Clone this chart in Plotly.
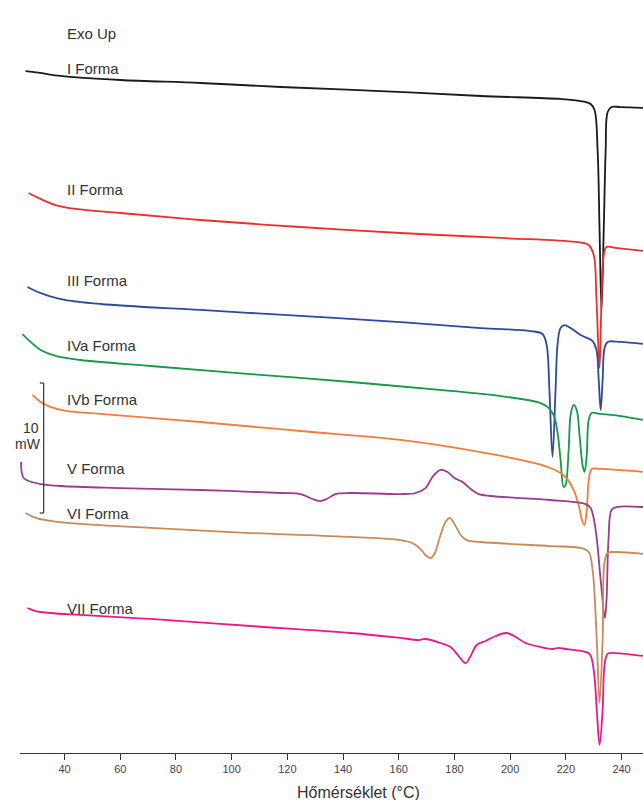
import plotly.graph_objects as go

# DSC thermograms of the crystal forms (temperature in °C, heat flow in mW, curves offset, exo up)
t_I = [26.0, 31.4, 38.6, 60.1, 88.8, 117.6, 153.5, 189.4, 218.1, 225.3, 228.9, 230.3, 231.4, 232.1, 232.8, 233.6, 234.3, 235.0, 236.4, 239.6, 247.9]
q_I = [52.46, 52.31, 52.08, 51.77, 51.54, 51.23, 50.92, 50.54, 50.31, 50.15, 49.92, 49.46, 46.38, 40.23, 34.08, 40.23, 46.38, 49.31, 49.69, 49.69, 49.62]

t_II = [27.1, 31.4, 36.8, 44.0, 60.1, 88.8, 124.7, 160.6, 196.6, 223.5, 228.2, 230.0, 231.0, 232.1, 232.8, 233.6, 234.6, 237.8, 247.9]
q_II = [43.08, 42.62, 42.15, 41.85, 41.54, 41.0, 40.46, 40.0, 39.62, 39.31, 39.08, 38.31, 34.85, 29.62, 34.85, 38.31, 38.92, 38.85, 38.62]

t_III = [26.7, 31.4, 38.6, 52.9, 88.8, 124.7, 160.6, 189.4, 207.3, 211.6, 213.1, 214.1, 215.2, 216.3, 217.0, 218.1, 219.5, 221.7, 225.3, 229.6, 231.0, 231.8, 232.5, 233.2, 233.9, 235.0, 239.6, 247.9]
q_III = [35.85, 35.38, 34.92, 34.54, 34.08, 33.62, 33.15, 32.69, 32.46, 32.23, 31.38, 27.92, 22.77, 27.92, 31.38, 32.69, 32.92, 32.69, 32.15, 31.69, 31.0, 28.69, 26.38, 28.69, 31.15, 31.62, 31.62, 31.46]

t_IVa = [24.9, 27.8, 31.4, 36.8, 45.7, 70.9, 106.8, 142.7, 178.6, 196.6, 210.9, 213.4, 215.6, 217.0, 218.1, 219.2, 219.9, 221.0, 221.7, 222.8, 223.9, 224.9, 226.0, 226.7, 227.5, 228.2, 229.3, 232.5, 239.6, 247.9]
q_IVa = [32.23, 31.62, 31.0, 30.54, 30.23, 29.77, 29.15, 28.54, 27.85, 27.46, 26.92, 26.62, 26.0, 24.69, 22.54, 20.46, 20.62, 23.31, 26.0, 26.77, 26.38, 24.46, 22.15, 21.62, 22.92, 25.62, 26.15, 26.08, 25.92, 25.62]

t_IVb = [28.5, 31.4, 34.9, 40.4, 52.9, 88.8, 124.7, 160.6, 189.4, 203.7, 214.5, 219.9, 222.8, 224.6, 226.0, 226.7, 227.5, 228.2, 229.3, 232.5, 247.9]
q_IVb = [27.54, 27.0, 26.62, 26.31, 26.08, 25.46, 24.77, 24.08, 23.15, 22.54, 21.92, 21.23, 20.23, 19.08, 17.77, 17.54, 18.69, 20.92, 21.85, 21.85, 21.62]

t_V = [24.4, 24.6, 25.3, 27.1, 31.4, 38.6, 60.1, 88.8, 117.6, 124.7, 129.0, 131.6, 134.1, 137.3, 142.7, 160.6, 166.0, 169.6, 172.1, 175.0, 177.5, 180.0, 182.9, 185.8, 188.7, 193.0, 214.5, 227.1, 228.9, 230.7, 232.5, 234.0, 234.6, 235.3, 236.4, 238.2, 247.9]
q_V = [22.38, 21.62, 21.15, 20.92, 20.69, 20.54, 20.38, 20.23, 20.0, 19.92, 19.54, 19.38, 19.54, 19.92, 20.0, 19.92, 20.0, 20.38, 21.23, 21.77, 21.62, 21.15, 20.85, 20.31, 19.92, 19.77, 19.46, 19.15, 18.85, 17.15, 13.31, 10.38, 11.77, 16.38, 18.69, 18.92, 18.92]

t_VI = [26.0, 29.6, 34.9, 45.7, 70.9, 106.8, 142.7, 160.6, 164.9, 167.8, 169.9, 171.4, 172.8, 175.0, 176.8, 178.3, 180.0, 182.2, 184.4, 189.4, 214.5, 225.3, 228.2, 229.6, 231.1, 232.1, 233.2, 233.9, 235.0, 237.8, 247.9]
q_VI = [18.46, 18.08, 17.85, 17.62, 17.31, 16.92, 16.62, 16.38, 16.15, 15.69, 15.15, 15.0, 15.31, 16.77, 17.77, 18.08, 17.62, 16.77, 16.38, 16.23, 15.92, 15.77, 15.46, 14.08, 8.69, 3.85, 8.69, 14.69, 15.38, 15.46, 15.31]

t_VII = [26.7, 29.6, 34.9, 45.7, 70.9, 106.8, 142.7, 160.6, 167.1, 169.6, 175.0, 178.6, 181.5, 184.0, 185.8, 188.0, 191.2, 194.8, 198.7, 202.0, 205.5, 210.9, 215.2, 217.4, 219.9, 225.3, 228.5, 230.0, 231.1, 232.1, 233.2, 233.9, 235.0, 237.8, 247.9]
q_VII = [11.15, 10.92, 10.77, 10.62, 10.31, 9.77, 9.23, 8.85, 8.69, 8.77, 8.46, 8.15, 7.46, 6.92, 7.46, 8.31, 8.62, 9.0, 9.23, 8.92, 8.46, 8.15, 8.0, 8.08, 8.0, 7.85, 7.62, 6.38, 3.31, 0.62, 3.31, 6.77, 7.62, 7.69, 7.46]

form_names = ["I Forma", "II Forma", "III Forma", "IVa Forma", "IVb Forma", "V Forma", "VI Forma", "VII Forma"]
tick_values = [40, 60, 80, 100, 120, 140, 160, 180, 200, 220, 240]
scale_bar_mw = 10

curves = [
    (t_I, q_I, "#1a1a1a", 52.69),
    (t_II, q_II, "#e8312f", 43.31),
    (t_III, q_III, "#2d4a9c", 36.38),
    (t_IVa, q_IVa, "#17994a", 31.38),
    (t_IVb, q_IVb, "#ef7d3c", 27.23),
    (t_V, q_V, "#993d8c", 21.85),
    (t_VI, q_VI, "#c88a5a", 18.46),
    (t_VII, q_VII, "#e8198b", 11.15),
]

font_family = "Liberation Sans, Arial, sans-serif"
text_color = "#333333"

fig = go.Figure()
annotations = []
for name, (t, q, color, label_y) in zip(form_names, curves):
    fig.add_trace(go.Scatter(
        x=t, y=q, mode="lines", name=name,
        line=dict(color=color, width=1.8, shape="spline", smoothing=1.0),
        hoverinfo="x+y+name",
    ))
    annotations.append(dict(
        x=40.3, y=label_y, xref="x", yref="y", text=name, showarrow=False,
        xanchor="left", yanchor="middle",
        font=dict(family=font_family, size=15, color=text_color),
    ))

annotations.append(dict(
    x=40.3, y=55.38, xref="x", yref="y", text="Exo Up", showarrow=False,
    xanchor="left", yanchor="middle",
    font=dict(family=font_family, size=15, color=text_color),
))

# 10 mW scale bar
bar_x = 32.5
bar_top = 28.46
bar_bottom = bar_top - scale_bar_mw
shapes = [
    dict(type="line", xref="x", yref="y", x0=bar_x, x1=bar_x, y0=bar_bottom, y1=bar_top,
         line=dict(color="#333333", width=1.2)),
    dict(type="line", xref="x", yref="y", x0=31.1, x1=bar_x, y0=bar_top, y1=bar_top,
         line=dict(color="#333333", width=1.2)),
    dict(type="line", xref="x", yref="y", x0=31.1, x1=bar_x, y0=bar_bottom, y1=bar_bottom,
         line=dict(color="#333333", width=1.2)),
]
annotations.append(dict(
    x=31.6, y=25.0, xref="x", yref="y", text=str(scale_bar_mw), showarrow=False,
    xanchor="right", yanchor="middle",
    font=dict(family=font_family, size=14, color=text_color),
))
annotations.append(dict(
    x=32.2, y=23.77, xref="x", yref="y", text="mW", showarrow=False,
    xanchor="right", yanchor="middle",
    font=dict(family=font_family, size=14, color=text_color),
))

# axis title
annotations.append(dict(
    x=0.544, y=-0.052, xref="paper", yref="paper", text="Hőmérséklet (°C)", showarrow=False,
    xanchor="center", yanchor="middle",
    font=dict(family=font_family, size=16, color=text_color),
))

fig.update_layout(
    width=643, height=800,
    margin=dict(l=20, r=0, t=0, b=47),
    paper_bgcolor="white", plot_bgcolor="white",
    showlegend=False,
    annotations=annotations,
    shapes=shapes,
    xaxis=dict(
        range=[24.0, 247.7], tickvals=tick_values, ticks="outside", ticklen=6,
        tickcolor="#333333", tickwidth=1.2,
        showline=True, linecolor="#333333", linewidth=1.4,
        showgrid=False, zeroline=False,
        tickfont=dict(family=font_family, size=11, color="#444444"),
    ),
    yaxis=dict(range=[0, 753 / 13], visible=False, showgrid=False, zeroline=False),
)

fig.write_html("out.html")
